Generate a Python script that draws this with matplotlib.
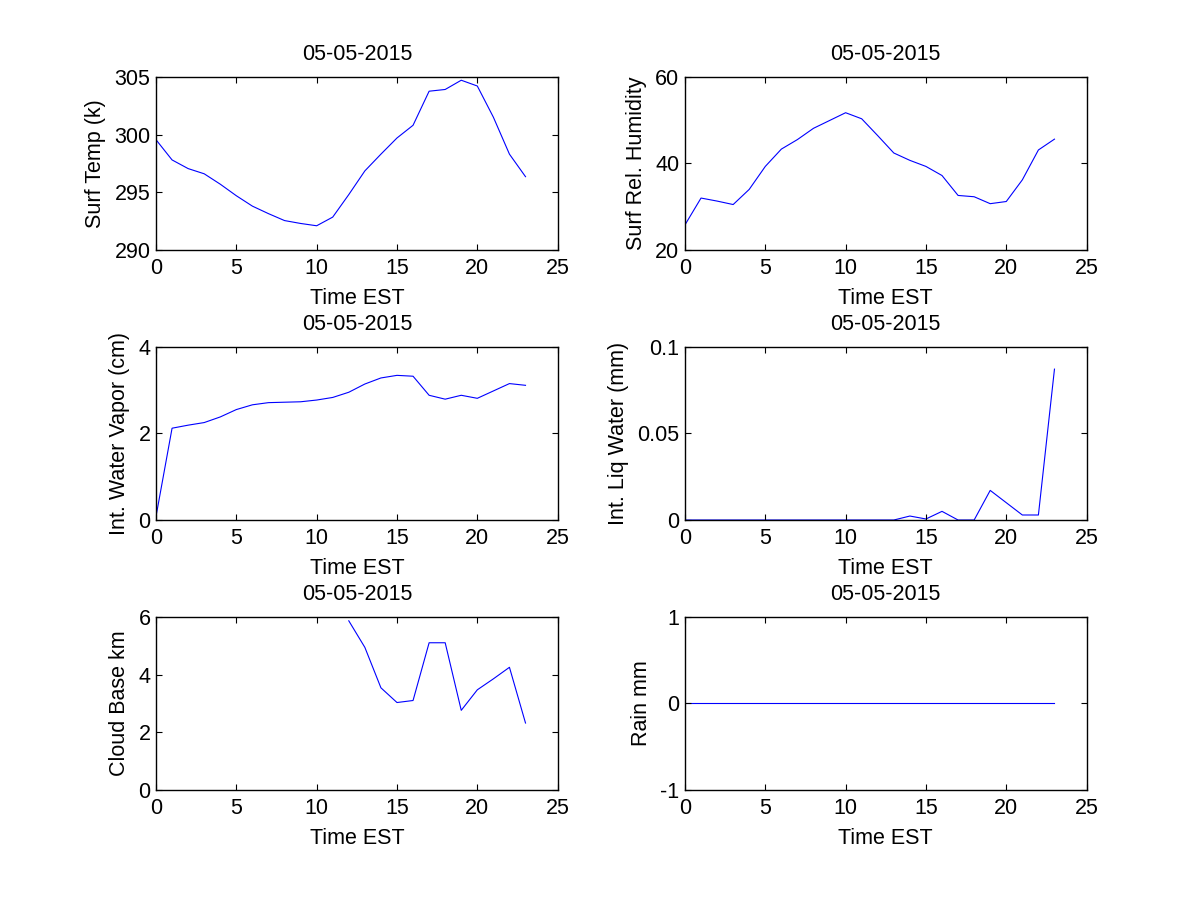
#!/usr/bin/env python3

import matplotlib
matplotlib.use("Agg")
import matplotlib.pyplot as plt
import numpy as np

plt.rcParams["font.family"] = ["Liberation Sans", "DejaVu Sans"]
plt.rcParams["axes.unicode_minus"] = False

hours = list(range(24))
date_str = "05-05-2015"

surf_temp = [299.55, 297.8, 297.05, 296.6, 295.7, 294.7, 293.8, 293.15, 292.55, 292.3,
             292.1, 292.85, 294.8, 296.85, 298.3, 299.7, 300.8, 303.75, 303.9, 304.7,
             304.2, 301.5, 298.3, 296.35]
surf_rh = [25.8, 32.0, 31.3, 30.5, 34.0, 39.3, 43.3, 45.5, 48.1, 49.9,
           51.7, 50.3, 46.4, 42.4, 40.7, 39.3, 37.2, 32.6, 32.3, 30.7,
           31.2, 36.2, 43.1, 45.6]
water_vapor = [0.08, 2.12, 2.19, 2.25, 2.38, 2.55, 2.66, 2.71, 2.72, 2.73,
               2.77, 2.83, 2.95, 3.14, 3.28, 3.34, 3.32, 2.88, 2.79, 2.88,
               2.81, 2.98, 3.15, 3.11]
liq_water = [0, 0, 0, 0, 0, 0, 0, 0, 0, 0,
             0, 0, 0, 0, 0.0023, 0.0006, 0.005, 0, 0, 0.0171,
             0.010, 0.0029, 0.0029, 0.0871]
cloud_base = [np.nan] * 12 + [5.86, 4.94, 3.54, 3.03, 3.10, 5.10, 5.10, 2.76,
                              3.47, 3.85, 4.25, 2.32]
rain = [0] * 24

panels = [
    (surf_temp, "Surf Temp (k)", (290, 305), [290, 295, 300, 305], None),
    (surf_rh, "Surf Rel. Humidity", (20, 60), [20, 40, 60], None),
    (water_vapor, "Int. Water Vapor (cm)", (0, 4), [0, 2, 4], None),
    (liq_water, "Int. Liq Water (mm)", (0, 0.1), [0, 0.05, 0.1], ["0", "0.05", "0.1"]),
    (cloud_base, "Cloud Base km", (0, 6), [0, 2, 4, 6], None),
    (rain, "Rain mm", (-1, 1), [-1, 0, 1], None),
]

lefts = [0.13, 0.5708]
bottoms = [0.7222, 0.4222, 0.1222]
fs = 15.5

fig = plt.figure(figsize=(12, 9), dpi=100)
for i, (vals, ylab, ylim, yticks, ylabels) in enumerate(panels):
    ax = fig.add_axes([lefts[i % 2], bottoms[i // 2], 0.3347, 0.1925])
    ax.plot(hours, vals, color="#0000ff", lw=0.8, zorder=1)
    ax.set_xlim(0, 25)
    ax.set_ylim(*ylim)
    ax.set_xticks([0, 5, 10, 15, 20, 25])
    ax.set_yticks(yticks)
    if ylabels:
        ax.set_yticklabels(ylabels)
    ax.tick_params(direction="in", top=True, right=True, length=4,
                   width=0.8, labelsize=fs)
    ax.tick_params(axis="x", pad=6)
    ax.tick_params(axis="y", pad=4)
    ax.set_title(date_str, fontsize=fs, pad=12)
    ax.set_xlabel("Time EST", fontsize=fs, labelpad=6)
    ax.set_ylabel(ylab, fontsize=fs, labelpad=6)
    for s in ax.spines.values():
        s.set_linewidth(1.0)

fig.savefig("out.png", dpi=100)
